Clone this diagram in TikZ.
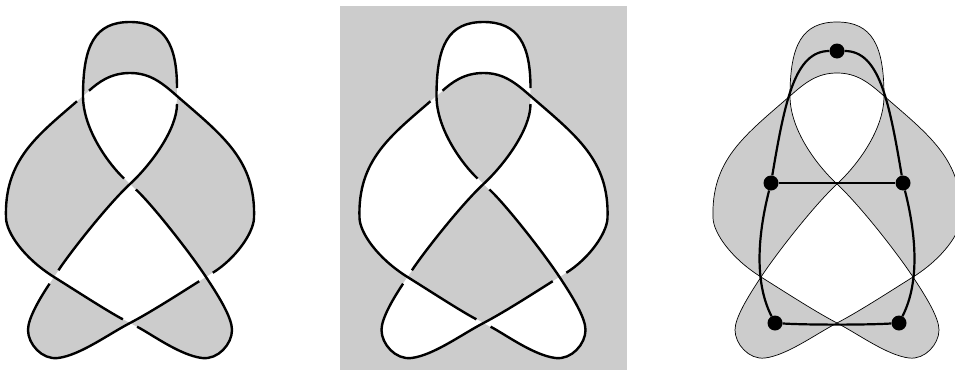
\documentclass[tikz,border=0pt]{standalone}
\usepackage{tikz}
\definecolor{regiongray}{HTML}{CCCCCC}
\usetikzlibrary{positioning}
\tikzset{
  strand/.style={draw=black, line width=2.4pt, shorten <=8pt, shorten >=8pt},
  region/.style={fill=regiongray, even odd rule},
  hole/.style={fill=white, even odd rule},
  outline/.style={draw=black, line width=0.7pt},
  tait/.style={draw=black, line width=2.2pt},
  vertex/.style={circle, fill=black, inner sep=0pt, minimum size=15pt},
}
% the whole knot as one closed curve (for the checkerboard fill)
\newcommand{\knotcurve}{(83,96)
  .. controls (83,45) and (95,22) .. (130,22)
  .. controls (165,22) and (177,45) .. (177,96)
  .. controls (177,130) and (150,165.5) .. (130,184)
  .. controls (108,204.4) and (70.5,252) .. (54,277)
  .. controls (40.25,297.75) and (28,318) .. (28,330)
  .. controls (28,344) and (42,360) .. (58,358)
  .. controls (80,355.25) and (108,334.5) .. (130,323)
  .. controls (152.1,311.5) and (184.75,290.25) .. (206,277)
  .. controls (235.75,258.45) and (253.5,233) .. (254,218)
  .. controls (256,160) and (222.3,135.4) .. (177,96)
  .. controls (162,82.8) and (150,73) .. (130,73)
  .. controls (110,73) and (98,82.8) .. (83,96)
  .. controls (37.7,135.4) and (4,160) .. (6,218)
  .. controls (6.5,233) and (24.25,258.45) .. (54,277)
  .. controls (75.25,290.25) and (107.9,311.5) .. (130,323)
  .. controls (152,334.5) and (180,355.25) .. (202,358)
  .. controls (218,360) and (232,344) .. (232,330)
  .. controls (232,318) and (219.75,297.75) .. (206,277)
  .. controls (189.5,252) and (152,204.4) .. (130,184)
  .. controls (110,165.5) and (83,130) .. (83,96) -- cycle}
% the six over-arcs, each broken at its two under-crossings
\newcommand{\knotstrands}{%
  \draw[strand] (177,96) .. controls (177,130) and (150,165.5) .. (130,184)
    .. controls (108,204.4) and (70.5,252) .. (54,277);
  \draw[strand] (54,277) .. controls (40.25,297.75) and (28,318) .. (28,330)
    .. controls (28,344) and (42,360) .. (58,358)
    .. controls (80,355.25) and (108,334.5) .. (130,323)
    .. controls (152.1,311.5) and (184.75,290.25) .. (206,277);
  \draw[strand] (206,277) .. controls (235.75,258.45) and (253.5,233) .. (254,218)
    .. controls (256,160) and (222.3,135.4) .. (177,96)
    .. controls (162,82.8) and (150,73) .. (130,73)
    .. controls (110,73) and (98,82.8) .. (83,96);
  \draw[strand] (83,96) .. controls (37.7,135.4) and (4,160) .. (6,218)
    .. controls (6.5,233) and (24.25,258.45) .. (54,277)
    .. controls (75.25,290.25) and (107.9,311.5) .. (130,323);
  \draw[strand] (130,323) .. controls (152,334.5) and (180,355.25) .. (202,358)
    .. controls (218,360) and (232,344) .. (232,330)
    .. controls (232,318) and (219.75,297.75) .. (206,277)
    .. controls (189.5,252) and (152,204.4) .. (130,184);
  \draw[strand] (130,184) .. controls (110,165.5) and (83,130) .. (83,96)
    .. controls (83,45) and (95,22) .. (130,22)
    .. controls (165,22) and (177,45) .. (177,96);
}
\begin{document}
\begin{tikzpicture}[x=1pt, y=-1pt]
  \useasboundingbox (0,0) rectangle (955,370);

  % left: shaded diagram
  \fill[region] \knotcurve;
  \knotstrands

  % middle: complementary shading
  \fill[regiongray] (340,6) rectangle (627,370);
  \begin{scope}[xshift=353.5pt]
    \fill[hole] \knotcurve;
    \knotstrands
  \end{scope}

  % right: Tait graph on the shaded regions
  \begin{scope}[xshift=707pt]
    \fill[region] \knotcurve;
    \draw[outline] \knotcurve;

    \node[vertex] (vtop) at (130,51) {};
    \node[vertex] (vleft) at (64,183) {};
    \node[vertex] (vright) at (196,183) {};
    \node[vertex] (vbl) at (68,323) {};
    \node[vertex] (vbr) at (192,323) {};

    \draw[tait] (vtop) .. controls (88,51) and (78,100) .. (vleft);
    \draw[tait] (vtop) .. controls (172,51) and (182,100) .. (vright);
    \draw[tait] (vleft) -- (vright);
    \draw[tait] (vleft) .. controls (52,230) and (46,280) .. (vbl);
    \draw[tait] (vright) .. controls (208,230) and (214,280) .. (vbr);
    \draw[tait] (vbl) .. controls (100,325) and (160,325) .. (vbr);
  \end{scope}
\end{tikzpicture}
\end{document}
